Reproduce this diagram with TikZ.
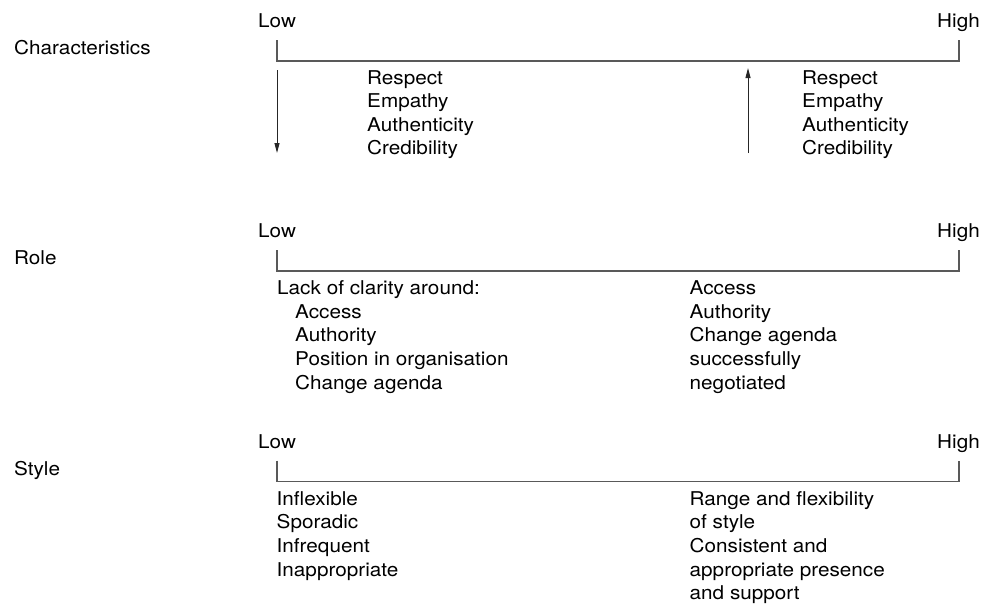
\documentclass[tikz,border=0pt]{standalone}
\usepackage{fontspec}
\setmainfont{TeX Gyre Heros}[FakeStretch=1.09]
\usetikzlibrary{arrows.meta}

\begin{document}
\begin{tikzpicture}[x=1pt,y=-1pt,
  lbl/.style={font=\fontsize{19}{23.7}\selectfont, inner sep=0pt, anchor=base west},
  scaleline/.style={draw=black!65, line width=1.4pt},
  trendarrow/.style={draw=black!85, line width=1pt, -{Triangle[length=10pt,width=5pt]}}]
\useasboundingbox (0,0) rectangle (992,603);

% the three low-high scales
\foreach \y/\nm/\txt in {61/ch/Characteristics, 271/ro/Role, 481.5/st/Style} {
  \coordinate (\nm-lo) at (277,\y);
  \coordinate (\nm-hi) at (959,\y);
  \node[lbl] (\nm-name) at (14,{\y-6.5}) {\txt};
  \node[lbl] (\nm-low) at (258,{\y-33.5}) {Low};
  \node[lbl, anchor=base east] (\nm-high) at (980,{\y-33.5}) {High};
  \draw[scaleline] ([yshift=21pt]\nm-lo) -- (\nm-lo) -- (\nm-hi) -- ([yshift=21pt]\nm-hi);
}

% characteristics
\foreach \txt [count=\i] in {Respect,Empathy,Authenticity,Credibility} {
  \node[lbl] (ch-l\i) at (367,{84+23.5*(\i-1)}) {\txt};
  \node[lbl] (ch-r\i) at (802,{84+23.5*(\i-1)}) {\txt};
}
\coordinate (ch-dn-a) at (277,70);
\coordinate (ch-dn-b) at (277,153);
\coordinate (ch-up-a) at (748,153);
\coordinate (ch-up-b) at (748,68);
\draw[trendarrow] (ch-dn-a) -- (ch-dn-b);
\draw[trendarrow] (ch-up-a) -- (ch-up-b);

% role
\node[lbl] (ro-l0) at (277,294.5) {Lack of clarity around:};
\foreach \txt [count=\i] in {Access,Authority,Position in organisation,Change agenda}
  \node[lbl] (ro-l\i) at (295,{294.5+23.7*\i}) {\txt};
\foreach \txt [count=\i] in {Access,Authority,Change agenda,successfully,negotiated}
  \node[lbl] (ro-r\i) at (689.5,{294.5+23.7*(\i-1)}) {\txt};

% style
\foreach \txt [count=\i] in {Inflexible,Sporadic,Infrequent,Inappropriate}
  \node[lbl] (st-l\i) at (276.5,{505+23.7*(\i-1)}) {\txt};
\foreach \txt [count=\i] in {Range and flexibility,of style,Consistent and,appropriate presence,and support}
  \node[lbl] (st-r\i) at (689.5,{505+23.7*(\i-1)}) {\txt};
\end{tikzpicture}
\end{document}
